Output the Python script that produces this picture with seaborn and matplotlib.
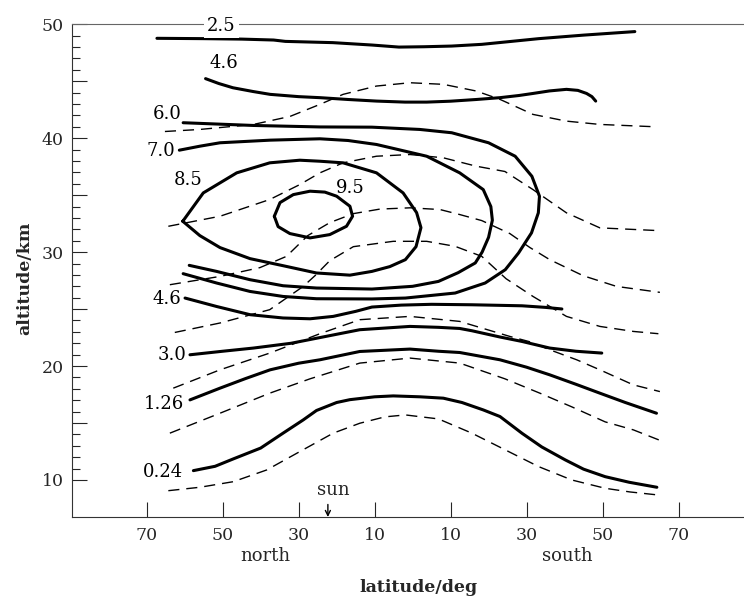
import matplotlib
matplotlib.use("Agg")
import matplotlib.pyplot as plt
import seaborn as sns

sns.set_style("ticks")
plt.rcParams['font.family'] = ['DejaVu Serif', 'Liberation Serif']

# ---------------- data (latitude: north negative, south positive; altitude km) ----
# solid contours
lat_c25 = [-67.3, -55, -45, -36.6, -33.5, -21.0, -10.7, -3.6, 3, 10.3, 18.2, 26, 33.2, 45, 58.5]
alt_c25 = [48.77, 48.74, 48.70, 48.62, 48.50, 48.39, 48.18, 48.00, 48.03, 48.09, 48.24, 48.50, 48.74, 49.05, 49.36]

lat_c46u = [-54.5, -51, -47.3, -42, -37.5, -30, -24.4, -17, -9.5, -2, 3.7, 10, 16.8, 23, 28, 31.7, 36, 40.5, 43.5, 45.8, 47.2, 48.2]
alt_c46u = [45.23, 44.8, 44.43, 44.1, 43.85, 43.65, 43.56, 43.4, 43.26, 43.17, 43.17, 43.25, 43.4, 43.56, 43.75, 43.93, 44.15, 44.29, 44.2, 43.93, 43.65, 43.26]

lat_c60 = [-60.4, -41.9, -24.4, -10.7, 1.9, 10.3, 20.0, 27.0, 31.4, 33.4, 33.1, 31.3, 27.9, 24.4, 19.1, 11.2, -1.9, -10.7, -25.3, -34.1, -42.8, -51.6, -60.4]
alt_c60 = [41.36, 41.12, 40.99, 40.97, 40.77, 40.48, 39.60, 38.42, 36.66, 34.91, 33.45, 31.69, 29.93, 28.46, 27.29, 26.41, 25.97, 25.89, 25.91, 26.11, 26.55, 27.29, 28.11]

lat_c70 = [-61.4, -56, -50.7, -37.5, -24.4, -17, -9.5, 3.7, 12.4, 18.6, 20.6, 21.0, 20.0, 18.3, 16.5, 12, 6.8, 0, -10.7, -25.3, -34.1, -42.8, -51.6, -58.8]
alt_c70 = [38.95, 39.3, 39.6, 39.83, 39.95, 39.8, 39.45, 38.42, 36.96, 35.49, 34.0, 32.8, 31.3, 30.0, 29.05, 28.2, 27.43, 27.0, 26.76, 26.85, 27.05, 27.58, 28.31, 28.84]

lat_c85 = [-60.5, -55.1, -46.3, -37.6, -29.7, -24.4, -18.3, -9.5, -2.5, 1.05, 2.2, 0.9, -1.9, -6.0, -10.7, -16.5, -25.3, -34.1, -42.8, -50.7, -56.0]
alt_c85 = [32.71, 35.20, 36.96, 37.84, 38.07, 37.98, 37.84, 36.96, 35.20, 33.47, 32.15, 30.48, 29.34, 28.73, 28.31, 27.98, 28.17, 28.81, 29.43, 30.40, 31.45]

lat_c95 = [-36.4, -34.9, -31.4, -27.0, -23.1, -20.0, -16.5, -15.8, -17.4, -21.8, -27.0, -32.3, -35.4]
alt_c95 = [33.15, 34.35, 35.05, 35.35, 35.27, 34.91, 34.03, 33.15, 32.27, 31.54, 31.25, 31.63, 32.24]

lat_c46l = [-59.9, -51.6, -42.8, -34.1, -27.0, -20.9, -15, -10.7, -3, 5, 15.6, 28.8, 35, 39.3]
alt_c46l = [25.97, 25.23, 24.51, 24.22, 24.15, 24.36, 24.8, 25.18, 25.35, 25.42, 25.38, 25.29, 25.15, 25.01]

lat_c30 = [-58.6, -50, -41.9, -32, -24.4, -13.9, -0.7, 6.8, 12.4, 15.6, 23, 28.8, 36.1, 43, 49.8]
alt_c30 = [20.99, 21.3, 21.58, 22.0, 22.5, 23.19, 23.48, 23.40, 23.30, 23.1, 22.55, 22.16, 21.58, 21.3, 21.14]

lat_c126 = [-58.6, -50.7, -44, -37.5, -30, -24.4, -13.9, -0.7, 6.8, 12.4, 23, 30, 36.1, 43, 49.3, 56, 64.2]
alt_c126 = [17.03, 18.06, 18.9, 19.67, 20.25, 20.55, 21.28, 21.49, 21.3, 21.19, 20.55, 19.9, 19.23, 18.4, 17.62, 16.8, 15.86]

lat_c024 = [-57.7, -52, -47.2, -40, -34.1, -28.8, -25.3, -20, -16.5, -10, -5.1, 2, 8.1, 13, 18.6, 23, 28.8, 34, 40.2, 45, 50.7, 57, 64.3]
alt_c024 = [10.82, 11.2, 11.85, 12.8, 14.11, 15.27, 16.1, 16.8, 17.05, 17.3, 17.38, 17.3, 17.18, 16.8, 16.15, 15.57, 14.1, 12.9, 11.76, 10.95, 10.29, 9.8, 9.36]

# dashed lines
lat_d1 = [-65.2, -56.0, -41.9, -32.3, -24.4, -18.3, -9.5, -0.7, 8.1, 16.8, 23.0, 31.7, 40.5, 49.3, 64.2]
alt_d1 = [40.59, 40.77, 41.21, 41.91, 42.97, 43.85, 44.58, 44.87, 44.73, 44.14, 43.41, 42.09, 41.5, 41.21, 41.0]

lat_d2 = [-64.3, -50.7, -37.6, -29.7, -24.4, -18.3, -9.5, -0.7, 8.1, 16.8, 24.3, 31.7, 40.5, 49.3, 64.7]
alt_d2 = [32.27, 33.15, 34.62, 35.93, 36.96, 37.84, 38.42, 38.57, 38.28, 37.54, 37.08, 35.49, 33.45, 32.13, 31.89]

lat_d3 = [-63.9, -50.7, -40.2, -33.2, -27.6, -21.8, -15.6, -8.6, -0.7, 7.2, 12.4, 18.2, 25.6, 30.9, 36.1, 44.9, 53.7, 65.1]
alt_d3 = [27.14, 27.87, 28.64, 29.63, 31.45, 32.59, 33.38, 33.78, 33.89, 33.74, 33.30, 32.77, 31.63, 30.40, 29.34, 27.93, 26.99, 26.47]

lat_d4 = [-62.6, -50.7, -37.6, -28.8, -25.7, -21.8, -15.6, -5.1, 3.7, 11.2, 18.2, 24.6, 31.7, 40.5, 49.3, 58.1, 64.7]
alt_d4 = [22.95, 23.78, 24.95, 26.99, 27.93, 29.25, 30.48, 30.95, 30.95, 30.51, 29.63, 27.67, 26.11, 24.36, 23.48, 23.04, 22.84]

lat_d5 = [-63.0, -50.7, -37.6, -24.4, -13.9, -0.7, 12.4, 25.6, 30.9, 36.1, 43.2, 49.3, 58.1, 65.1]
alt_d5 = [18.06, 19.67, 21.14, 22.84, 24.07, 24.36, 23.92, 22.60, 22.13, 21.43, 20.55, 19.67, 18.35, 17.76]

lat_d6 = [-63.9, -50.7, -37.6, -27.0, -13.9, -0.7, 12.4, 24.3, 33.5, 41.9, 50.7, 58.1, 64.8]
alt_d6 = [14.11, 15.86, 17.62, 18.88, 20.26, 20.70, 20.26, 18.88, 17.62, 16.42, 15.10, 14.40, 13.52]

lat_d7 = [-64.3, -56.0, -47.2, -38.4, -29.7, -20.9, -13.9, -7.3, -1.9, 6.8, 15.6, 24.4, 33.2, 41.9, 50.7, 57.2, 64.7]
alt_d7 = [9.06, 9.36, 9.85, 10.88, 12.49, 14.11, 14.98, 15.54, 15.71, 15.36, 14.11, 12.64, 11.17, 10.0, 9.27, 8.95, 8.68]

# axis ticks
xtick_pos = [-70, -50, -30, -10, 10, 30, 50, 70]
xtick_lab = ['70', '50', '30', '10', '10', '30', '50', '70']
ytick_pos = [10, 15, 20, 25, 30, 35, 40, 45, 50]
ytick_lab = ['10', '', '20', '', '30', '', '40', '', '50']
sun_lat = -22.3

# ---------------- figure ----------------
fig = plt.figure(figsize=(7.44, 6.01), dpi=100)
ax = fig.add_axes([72 / 744, 1 - 517 / 601, 672 / 744, 492.7 / 601])
ax.set_xlim(-89.66, 87.24)
ax.set_ylim(6.75, 50)

solid_lines = [(lat_c25, alt_c25), (lat_c46u, alt_c46u), (lat_c60, alt_c60),
               (lat_c70, alt_c70), (lat_c46l, alt_c46l), (lat_c30, alt_c30),
               (lat_c126, alt_c126), (lat_c024, alt_c024)]
closed_lines = [(lat_c85, alt_c85), (lat_c95, alt_c95)]
dashed_lines = [(lat_d1, alt_d1), (lat_d2, alt_d2), (lat_d3, alt_d3), (lat_d4, alt_d4),
                (lat_d5, alt_d5), (lat_d6, alt_d6), (lat_d7, alt_d7)]

for la, al in solid_lines:
    sns.lineplot(x=la, y=al, sort=False, estimator=None, color='black', lw=2.2,
                 ax=ax, solid_capstyle='round', solid_joinstyle='round')
for la, al in closed_lines:
    sns.lineplot(x=la + [la[0]], y=al + [al[0]], sort=False, estimator=None,
                 color='black', lw=2.2, ax=ax, solid_capstyle='round',
                 solid_joinstyle='round')
for la, al in dashed_lines:
    sns.lineplot(x=la, y=al, sort=False, estimator=None, color='black', lw=1.0, ax=ax)
    ax.lines[-1].set_dashes((8, 5))

# contour labels
lab_kw = dict(fontsize=13, ha='center', va='center', color='black')
ax.text(-50.3, 49.85, '2.5', zorder=6, clip_on=False,
        bbox=dict(facecolor='white', edgecolor='none', pad=2.5), **lab_kw)
ax.text(-49.8, 46.57, '4.6', **lab_kw)
ax.text(-64.5, 42.15, '6.0', **lab_kw)
ax.text(-66.2, 38.86, '7.0', **lab_kw)
ax.text(-59.1, 36.37, '8.5', **lab_kw)
ax.text(-16.5, 35.67, '9.5', **lab_kw)
ax.text(-64.7, 25.89, '4.6', **lab_kw)
ax.text(-63.2, 20.99, '3.0', **lab_kw)
ax.text(-65.6, 16.68, '1.26', **lab_kw)
ax.text(-65.8, 10.73, '0.24', **lab_kw)

# sun marker
ax.text(sun_lat + 1.4, 9.1, 'sun', fontsize=13, ha='center', va='center')
ax.annotate('', xy=(sun_lat, 6.75), xytext=(sun_lat, 7.85),
            arrowprops=dict(arrowstyle='->', lw=1.0, color='black',
                            shrinkA=0, shrinkB=0, mutation_scale=9))

# axes styling
ax.set_xticks(xtick_pos)
ax.set_xticklabels(xtick_lab)
ax.set_yticks(ytick_pos)
ax.set_yticklabels(ytick_lab)
ax.set_yticks([v for v in range(11, 50) if v % 5], minor=True)
ax.tick_params(axis='x', which='major', direction='in', length=11, width=0.8,
               pad=7, labelsize=12.5)
ax.tick_params(axis='y', which='major', direction='in', length=11, width=0.8,
               pad=6, labelsize=12.5)
ax.tick_params(axis='y', which='minor', direction='in', length=6, width=0.8)
ax.set_xlabel('')
ax.set_ylabel('')
for s in ['left', 'bottom', 'top']:
    ax.spines[s].set_linewidth(0.8)
    ax.spines[s].set_color('#333333')
ax.spines['top'].set_color('#666666')
ax.spines['right'].set_visible(False)

fig.text(265 / 744, 1 - 556 / 601, 'north', fontsize=13, ha='center', va='center')
fig.text(567 / 744, 1 - 556 / 601, 'south', fontsize=13, ha='center', va='center')
fig.text(418 / 744, 1 - 587 / 601, 'latitude/deg', fontsize=12.5, fontweight='bold',
         ha='center', va='center')
fig.text(25 / 744, 1 - 278 / 601, 'altitude/km', fontsize=12.5, fontweight='bold',
         ha='center', va='center', rotation=90)

fig.savefig('out.png', dpi=100, facecolor='white')
